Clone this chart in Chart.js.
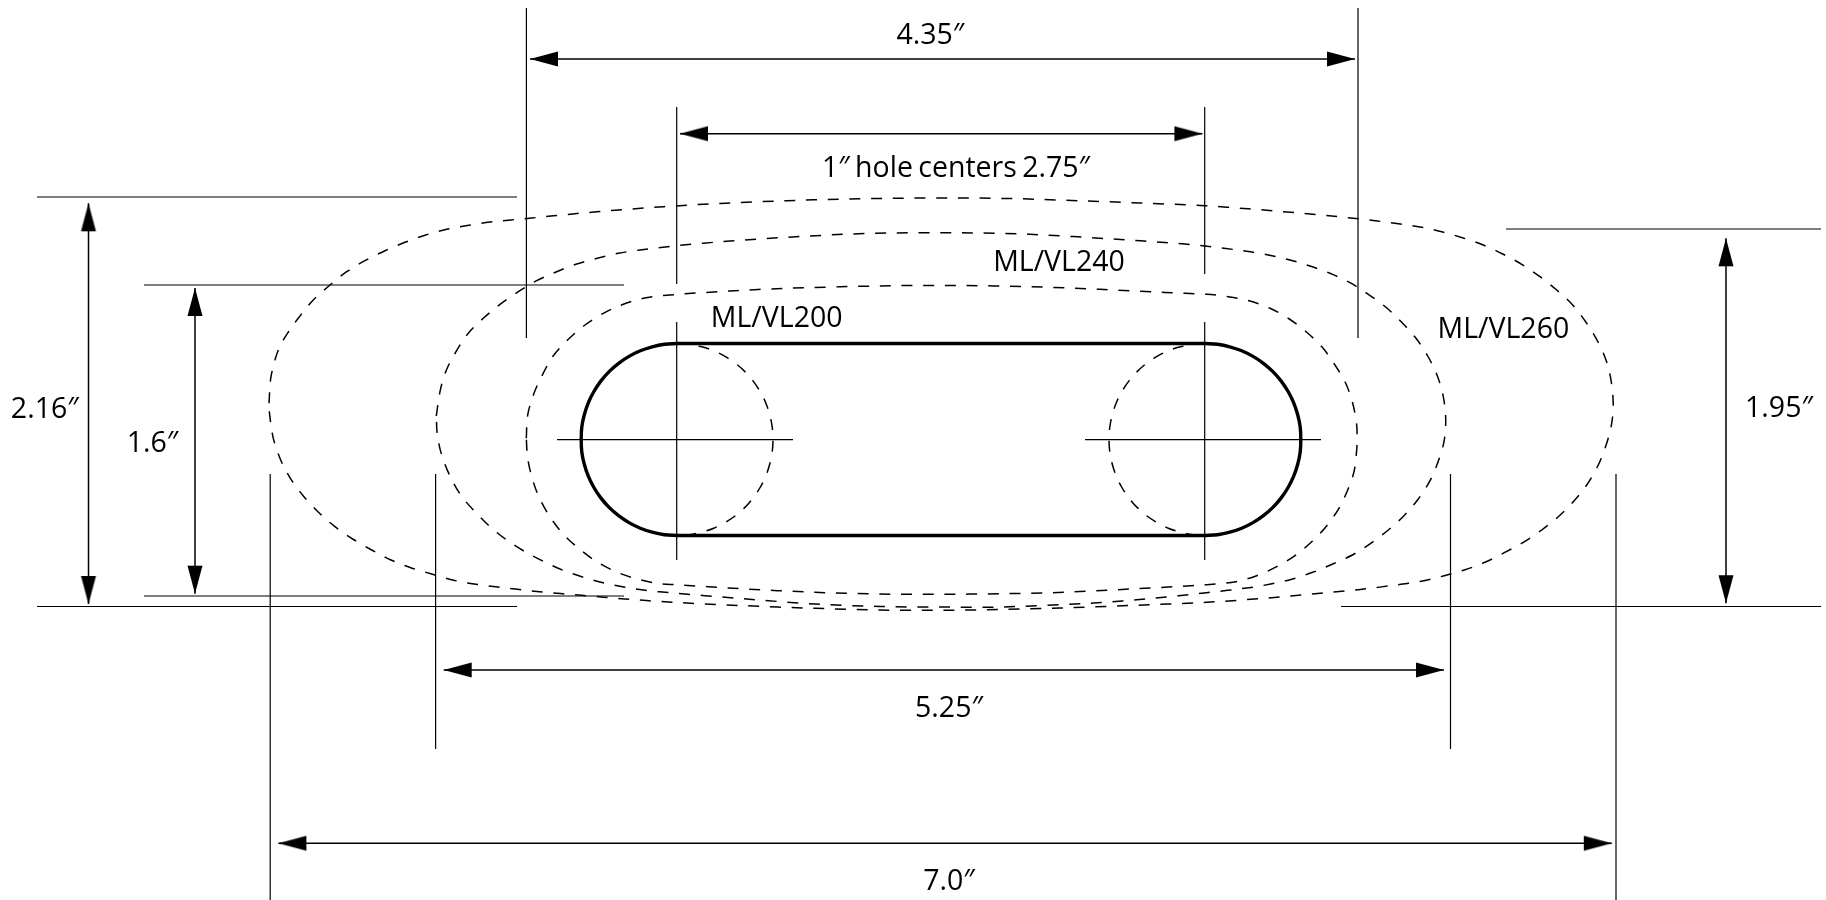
<!DOCTYPE html>
<html>
<head>
<meta charset="utf-8">
<title>ML/VL magnet outlines</title>
<style>
  html, body { margin: 0; padding: 0; background: #fff; overflow: hidden; }
  canvas { display: block; }
</style>
<script src="https://cdn.jsdelivr.net/npm/chart.js@4"></script>
</head>
<body>
<canvas id="chartCanvas" width="1826" height="900"></canvas>
<script>
// outlines
const outline260X = [269, 271, 278.3, 287.7, 300, 313.3, 330, 346.7, 365, 385, 405, 425.7, 446.7, 467.3, 490, 531.7, 575, 618.3, 663.3, 720, 786.7, 840, 893.3, 960, 1020, 1080, 1140, 1205, 1248.3, 1290.7, 1334.3, 1377.3, 1420, 1441.7, 1462.3, 1483.3, 1502.7, 1521.7, 1540, 1556.7, 1572.7, 1586, 1597.3, 1606, 1611, 1613.2, 1611.7, 1606.7, 1598.3, 1586.7, 1573.3, 1558.3, 1541.7, 1523.3, 1504.3, 1485, 1464.3, 1444.3, 1422.7, 1401, 1358.3, 1315, 1271.7, 1206.7, 1130, 1060, 1000, 940, 880, 815, 740, 668.3, 625, 581.7, 539.3, 495.7, 474, 452.7, 431.7, 410.7, 391, 371.7, 352.7, 335, 319, 304, 291, 280.7, 273.3, 269.5, 269];
const outline260Y = [403.3, 376.7, 350, 333, 316, 300, 285, 271.7, 260.7, 250.7, 242.3, 235, 229.3, 225.5, 222, 218, 213.7, 210, 206.7, 203.4, 200.7, 199.2, 198.3, 197.9, 198.8, 200.8, 203, 205.7, 208.8, 212.3, 216.3, 221, 227, 231.7, 237.7, 245, 254, 264.3, 276.7, 290, 305, 322.3, 340.7, 360, 380, 403.3, 423.3, 443.3, 465, 485, 501.7, 516.7, 530, 542.3, 552.7, 562.3, 570, 575.7, 581, 584.3, 589.7, 593.7, 597.7, 602.3, 605.5, 608, 609.5, 610.3, 610, 608.3, 605.5, 602, 599, 595.3, 591.7, 586.7, 584, 580, 574, 567.7, 560, 550, 539, 526.7, 512.7, 496.7, 479.3, 460, 438.3, 413.3, 403.3];

const outline240X = [436.3, 440, 445.7, 456, 468.3, 483.3, 500, 518.3, 536.7, 556.7, 576.7, 597.3, 618.3, 640, 676.7, 730, 786.7, 844.5, 893.3, 960, 1030, 1117, 1165, 1205, 1246.7, 1268.3, 1289, 1310, 1330, 1350, 1368.3, 1386, 1401.7, 1416, 1427.7, 1437.3, 1443.3, 1445.7, 1444.3, 1438.7, 1430, 1418.3, 1404, 1388.3, 1370.7, 1352.3, 1332.7, 1312.7, 1291.7, 1270.7, 1249, 1206.7, 1150, 1093.5, 1000, 940, 880, 815, 740, 670, 648.3, 626.7, 605.7, 585, 564, 544, 525, 506.7, 490, 475, 460.7, 450, 441.7, 437.3, 436.3];
const outline240Y = [416, 391.7, 371.7, 351.7, 333.3, 318.3, 304.3, 291.7, 280.7, 271.7, 264, 258.3, 253.3, 250, 245.7, 241, 237.3, 234.3, 233, 232.8, 234.3, 239.3, 242.5, 246, 251.3, 255, 259.7, 266, 273.3, 282.7, 294.3, 307.3, 322.3, 338.3, 356, 375.7, 396.7, 418.3, 440, 460, 480.7, 499, 515.7, 530, 543.3, 555, 564, 572.3, 579.3, 584, 587.7, 592.7, 598.5, 603, 607, 607, 606.5, 604, 598.5, 592.7, 590.7, 587.5, 583.3, 577.7, 570.7, 561.7, 551.7, 540, 526.7, 511.7, 495, 476, 455, 435, 416];

const outline200X = [526.3, 527.7, 534, 542.7, 553.3, 568.3, 585, 603.3, 623.3, 643.3, 670, 730, 786.7, 893.3, 960, 1030, 1100, 1165, 1206.7, 1228.3, 1250, 1270, 1289.3, 1306.7, 1322.3, 1335, 1345.7, 1352.7, 1356.7, 1357, 1356.7, 1354, 1347.7, 1338.3, 1326, 1311.7, 1295, 1276.7, 1256.7, 1235.7, 1206.7, 1130, 1058, 1000, 940, 880, 815, 740, 676.7, 660, 638.3, 617.3, 597.7, 580.7, 564, 551, 540, 532.7, 527.7, 526.3];
const outline200Y = [438.3, 415, 393.3, 374.3, 355.7, 339.3, 325, 313.3, 304.3, 298.3, 295, 291, 288.3, 285.7, 285.5, 286.7, 289.3, 292.5, 294.3, 296.7, 301, 308.3, 319, 332.3, 347.3, 365, 383.3, 403.3, 425, 440, 450, 471.7, 490, 509.3, 526.7, 541.7, 555.7, 566.7, 575.7, 581.7, 584.7, 589, 592.5, 593.7, 594.3, 594, 592.3, 588.7, 584.7, 583.7, 579.3, 572.3, 562.3, 550, 535, 518.3, 499.3, 480, 458.3, 438.3];

// the 1" holes
const holeLeftX = [677, 689.5, 701.8, 713.7, 725, 735.4, 744.9, 753.2, 760.1, 765.7, 769.7, 772.2, 773, 772.2, 769.7, 765.7, 760.1, 753.2, 744.9, 735.4, 725, 713.7, 701.8, 689.5, 677];
const holeRightX = [1205, 1192.5, 1180.2, 1168.3, 1157, 1146.6, 1137.1, 1128.8, 1121.9, 1116.3, 1112.3, 1109.8, 1109, 1109.8, 1112.3, 1116.3, 1121.9, 1128.8, 1137.1, 1146.6, 1157, 1168.3, 1180.2, 1192.5, 1205];
const holeY = [343.5, 344.3, 346.8, 350.8, 356.4, 363.3, 371.6, 381.1, 391.5, 402.8, 414.7, 427, 439.5, 452, 464.3, 476.2, 487.5, 497.9, 507.4, 515.7, 522.6, 528.2, 532.2, 534.7, 535.5];

// slot outline
const slotLeftX = [677, 664.5, 652.2, 640.3, 629, 618.6, 609.1, 600.8, 593.9, 588.3, 584.3, 581.8, 581.2, 581.8, 584.3, 588.3, 593.9, 600.8, 609.1, 618.6, 629, 640.3, 652.2, 664.5, 677];
const slotRightX = [1205, 1217.5, 1229.8, 1241.7, 1253, 1263.4, 1272.9, 1281.2, 1288.1, 1293.7, 1297.7, 1300.2, 1300.8, 1300.2, 1297.7, 1293.7, 1288.1, 1281.2, 1272.9, 1263.4, 1253, 1241.7, 1229.8, 1217.5, 1205];
const slotY = holeY;
const slotEdgeX = [677, 1205];
const slotTopY = [343.5, 343.5];
const slotBottomY = [535.5, 535.5];

// witness lines: x1, y1, x2, y2
const witnessLines = [
    [526.4, 8, 526.4, 338],
    [1358, 8, 1358, 338],
    [676.7, 107, 676.7, 284],
    [676.7, 322, 676.7, 560],
    [1204.7, 107, 1204.7, 274],
    [1204.7, 322, 1204.7, 560],
    [37, 197, 517, 197],
    [144, 285, 624, 285],
    [144, 596, 624, 596],
    [37, 606.5, 517, 606.5],
    [1506, 229, 1821, 229],
    [1341, 606.5, 1821, 606.5],
    [270.2, 474, 270.2, 900],
    [435.6, 474, 435.6, 749],
    [1450.5, 474, 1450.5, 749],
    [1616, 474, 1616, 900],
    [557, 439.7, 793, 439.7],
    [1085, 439.7, 1321, 439.7]
];

// dimension arrows, tip to tip: x1, y1, x2, y2
const dimensionArrows = [
    [530, 59, 1355, 59],
    [680, 133.7, 1202.4, 133.7],
    [443.7, 670, 1444, 670],
    [278.4, 843.3, 1611.8, 843.3],
    [88.5, 203.3, 88.5, 604],
    [195, 288, 195, 593.7],
    [1726, 238.3, 1726, 603.3]
];

const labelTexts = ['4.35″', '1″ hole centers 2.75″', 'ML/VL240', 'ML/VL200', 'ML/VL260', '2.16″', '1.6″', '1.95″', '5.25″', '7.0″'];
const labelX = [930.4, 956, 1059, 776.7, 1503.4, 44.8, 152.5, 1779, 949, 949];
const labelY = [36, 169, 263.2, 319, 330, 410, 444, 409, 709, 881.5];

function toPoints(xs, ys) {
    return xs.map((x, i) => ({ x: x, y: ys[i] }));
}

function curve(xs, ys, width, dash) {
    return {
        data: toPoints(xs, ys),
        showLine: true,
        borderColor: '#000',
        borderWidth: width,
        borderDash: dash,
        borderCapStyle: dash.length ? 'butt' : 'round',
        tension: 0.33,
        pointRadius: 0
    };
}

function straight(x1, y1, x2, y2, width) {
    return {
        data: [{ x: x1, y: y1 }, { x: x2, y: y2 }],
        showLine: true,
        borderColor: '#000',
        borderWidth: width,
        pointRadius: 0
    };
}

// arrow head pointing up, with its tip at the centre of the sprite
function makeArrowHead() {
    const c = document.createElement('canvas');
    c.width = 60;
    c.height = 60;
    const g = c.getContext('2d');
    g.fillStyle = '#000';
    g.beginPath();
    g.moveTo(30, 30);
    g.lineTo(22.5, 58);
    g.lineTo(37.5, 58);
    g.closePath();
    g.fill();
    return c;
}

const arrowHead = makeArrowHead();
const dashPattern = [11, 10.7];

const datasets = [];
witnessLines.forEach(l => datasets.push(straight(l[0], l[1], l[2], l[3], 1.2)));
dimensionArrows.forEach(a => {
    const d = straight(a[0], a[1], a[2], a[3], 1.5);
    d.pointStyle = arrowHead;
    d.pointRadius = 2;
    d.pointRotation = a[1] === a[3] ? [270, 90] : [0, 180];
    datasets.push(d);
});
datasets.push(curve(outline260X, outline260Y, 1.5, dashPattern));
datasets.push(curve(outline240X, outline240Y, 1.5, dashPattern));
datasets.push(curve(outline200X, outline200Y, 1.5, dashPattern));
datasets.push(curve(holeLeftX, holeY, 1.5, dashPattern));
datasets.push(curve(holeRightX, holeY, 1.5, dashPattern));
datasets.push(curve(slotLeftX, slotY, 3.4, []));
datasets.push(curve(slotRightX, slotY, 3.4, []));
datasets.push(curve(slotEdgeX, slotTopY, 3.4, []));
datasets.push(curve(slotEdgeX, slotBottomY, 3.4, []));

const labelPlugin = {
    id: 'dimensionLabels',
    afterDatasetsDraw(chart) {
        const ctx = chart.ctx;
        ctx.save();
        ctx.font = '28.5px "Open Sans"';
        ctx.wordSpacing = '-2px';
        ctx.fillStyle = '#000';
        ctx.textAlign = 'center';
        ctx.textBaseline = 'middle';
        labelTexts.forEach((t, i) => {
            ctx.fillText(t, chart.scales.x.getPixelForValue(labelX[i]), chart.scales.y.getPixelForValue(labelY[i]));
        });
        ctx.restore();
    }
};

new Chart(document.getElementById('chartCanvas').getContext('2d'), {
    type: 'scatter',
    data: { datasets: datasets },
    options: {
        responsive: false,
        animation: false,
        layout: { padding: 0, autoPadding: false },
        plugins: { legend: { display: false }, tooltip: { enabled: false } },
        scales: {
            x: { type: 'linear', min: 0, max: 1826, display: false },
            y: { type: 'linear', min: 0, max: 900, reverse: true, display: false }
        }
    },
    plugins: [labelPlugin]
});
</script>
</body>
</html>
